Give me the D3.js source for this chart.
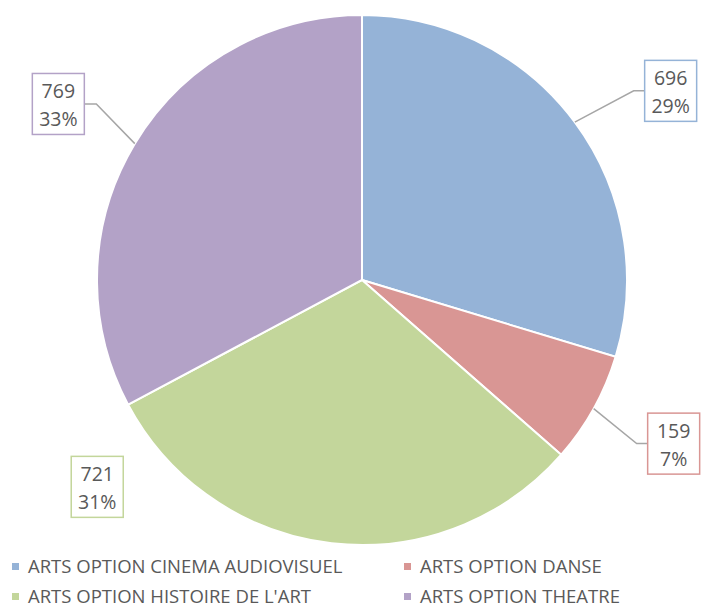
<!DOCTYPE html>
<html>
<head>
<meta charset="utf-8">
<script src="https://cdn.jsdelivr.net/npm/d3@7"></script>
<style>
  body { margin: 0; background: #fff; }
  text { font-family: "Open Sans", "Noto Sans", sans-serif; fill: #595959; }
</style>
</head>
<body>
<div id="chart"></div>
<script>
const categories = ["ARTS OPTION CINEMA AUDIOVISUEL", "ARTS OPTION DANSE", "ARTS OPTION HISTOIRE DE L'ART", "ARTS OPTION THEATRE"];
const values = [696, 159, 721, 769];
const percentLabels = ["29%", "7%", "31%", "33%"];
const colors = ["#95b3d7", "#d99694", "#c3d69b", "#b3a2c7"];

// where excel put each label box: [angle deg clockwise from top, distance from centre, leader?]
const labelPlace = [[58.5, 362, true], [117.7, 352, true], [232, 336, false], [300.1, 351, true]];

const W = 701, H = 608;
const CX = 362, CY = 280, R = 265;
const BOX_W = 52, BOX_H = 61;

const svg = d3.select("#chart").append("svg")
  .attr("width", W)
  .attr("height", H);

const g = svg.append("g")
  .attr("transform", `translate(${CX}, ${CY})`);

const pie = d3.pie().sort(null).value(d => d);
const arcs = pie(values);
const arc = d3.arc().innerRadius(0).outerRadius(R);

g.selectAll("path.slice")
  .data(arcs)
  .enter().append("path")
  .attr("class", "slice")
  .attr("d", arc)
  .attr("fill", (d, i) => colors[i])
  .attr("stroke", "#fff")
  .attr("stroke-width", 2);

// labels
const polar = (a, r) => [r * Math.sin(a * Math.PI / 180), -r * Math.cos(a * Math.PI / 180)];

arcs.forEach((d, i) => {
  const [ang, dist, leader] = labelPlace[i];
  const [bx, by] = polar(ang, dist);
  const right = bx > 0;

  if (leader) {
    const mid = (d.startAngle + d.endAngle) / 2;
    const sx = R * Math.sin(mid), sy = -R * Math.cos(mid);
    const edgeX = right ? bx - BOX_W / 2 : bx + BOX_W / 2;
    const elbowX = right ? edgeX - 11 : edgeX + 12;
    g.append("polyline")
      .attr("points", `${sx},${sy} ${elbowX},${by} ${edgeX},${by}`)
      .attr("fill", "none")
      .attr("stroke", "#a6a6a6")
      .attr("stroke-width", 1.5);
  }

  g.append("rect")
    .attr("x", bx - BOX_W / 2)
    .attr("y", by - BOX_H / 2)
    .attr("width", BOX_W)
    .attr("height", BOX_H)
    .attr("fill", "#fff")
    .attr("stroke", colors[i])
    .attr("stroke-width", 1.5);

  g.append("text")
    .attr("x", bx)
    .attr("y", by - 6)
    .attr("text-anchor", "middle")
    .style("font-size", "19.5px")
    .text(values[i]);

  g.append("text")
    .attr("x", bx)
    .attr("y", by + 22)
    .attr("text-anchor", "middle")
    .style("font-size", "19.5px")
    .text(percentLabels[i]);
});

// legend, 2 columns
const legend = svg.append("g");
const colX = [12, 404], rowY = [567, 597];

categories.forEach((c, i) => {
  const lx = colX[i % 2], ly = rowY[Math.floor(i / 2)];
  legend.append("rect")
    .attr("x", lx)
    .attr("y", ly - 4)
    .attr("width", 7)
    .attr("height", 7)
    .attr("fill", colors[i]);
  legend.append("text")
    .attr("x", lx + 16)
    .attr("y", ly + 6)
    .style("font-size", "18.5px")
    .text(c);
});
</script>
</body>
</html>
